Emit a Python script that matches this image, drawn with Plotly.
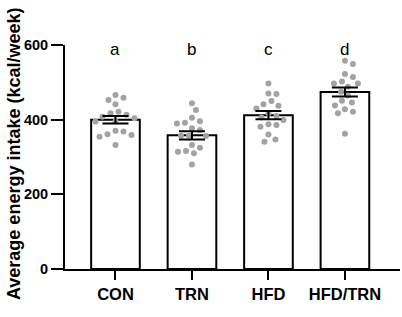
import plotly.graph_objects as go
import numpy as np

categories = ["CON", "TRN", "HFD", "HFD/TRN"]
letters = ["a", "b", "c", "d"]
means = [400, 358, 412, 474]
sems = [10, 11, 11, 12]

con_pts = [466, 459, 453, 441, 421, 417, 413, 408, 404, 396, 395, 370, 368, 361, 359, 354, 332]
trn_pts = [444, 426, 405, 396, 392, 390, 377, 372, 357, 357, 356, 332, 325, 316, 314, 310, 280]
hfd_pts = [497, 470, 469, 450, 441, 437, 430, 417, 410, 406, 399, 388, 386, 381, 360, 347, 341]
hfdtrn_pts = [558, 549, 522, 514, 502, 497, 497, 488, 475, 465, 451, 446, 438, 428, 421, 417, 362]
points = [con_pts, trn_pts, hfd_pts, hfdtrn_pts]

yticks = [0, 200, 400, 600]

# layout constants (pixels)
W, H = 402, 317
ML, MR, MT, MB = 65, 2, 45, 48
XR = [-0.66, 3.72]
YR = [0, 600]
px_per_x = (W - ML - MR) / (XR[1] - XR[0])
px_per_y = (H - MT - MB) / (YR[1] - YR[0])
DOT = 6.0


def beeswarm(vals):
    """Simple beeswarm: place points sorted by value, nearest free x offset."""
    order = np.argsort(vals)[::-1]
    placed = []
    offs = np.zeros(len(vals))
    cands = [0.0]
    for k in range(1, 40):
        cands += [k * 1.0, -k * 1.0]
    for i in order:
        ypx = vals[i] * px_per_y
        for c in cands:
            ok = True
            for (px_, py_) in placed:
                if (px_ - c) ** 2 + (py_ - ypx) ** 2 < (DOT * 1.3) ** 2:
                    ok = False
                    break
            if ok:
                placed.append((c, ypx))
                offs[i] = c / px_per_x
                break
    return offs


fig = go.Figure()
fig.add_trace(go.Bar(
    x=list(range(len(categories))), y=means, width=0.636,
    marker=dict(color="white", line=dict(color="black", width=2)),
    showlegend=False, hoverinfo="skip"))

for i, pts in enumerate(points):
    offs = beeswarm(pts)
    fig.add_trace(go.Scatter(
        x=[i + o for o in offs], y=pts, mode="markers",
        marker=dict(color="#a3a3a3", size=DOT, line=dict(width=0)),
        showlegend=False, hoverinfo="skip", cliponaxis=False))

fig.add_trace(go.Scatter(
    x=list(range(len(categories))), y=means, mode="markers",
    marker=dict(size=1, color="rgba(0,0,0,0)"),
    error_y=dict(type="data", array=sems, visible=True, color="black",
                 thickness=2, width=13),
    showlegend=False, hoverinfo="skip"))

for i, t in enumerate(letters):
    fig.add_annotation(x=i, y=588, text=t, showarrow=False, xref="x", yref="y",
                       yanchor="middle", font=dict(size=17, color="black",
                                                   family="Arial, Liberation Sans"))

fig.add_annotation(x=(14 - ML) / (W - ML - MR), y=(H - MB - 154) / (H - MT - MB),
                   xref="paper", yref="paper", text="<b>Average energy intake (kcal/week)</b>",
                   textangle=-90, showarrow=False, xanchor="center", yanchor="middle",
                   font=dict(size=18, color="black", family="Arial, Liberation Sans"))

fig.update_layout(
    template="none",
    width=W, height=H,
    margin=dict(l=ML, r=MR, t=MT, b=MB, autoexpand=False),
    paper_bgcolor="white", plot_bgcolor="white",
    font=dict(family="Arial, Liberation Sans", color="black"),
    xaxis=dict(range=XR, tickvals=list(range(len(categories))),
               ticktext=["<b>%s</b>" % c for c in categories], automargin=False,
               showline=True, linecolor="black", linewidth=2, ticks="outside",
               ticklen=9, tickwidth=2, tickcolor="black", showgrid=False,
               zeroline=False, tickfont=dict(size=16.5, color="black")),
    yaxis=dict(range=YR, tickvals=yticks, ticktext=["<b>%d</b>" % v for v in yticks],
               automargin=False, showline=True, linecolor="black",
               linewidth=2, ticks="outside", ticklen=12, tickwidth=2,
               tickcolor="black", showgrid=False, zeroline=False,
               tickfont=dict(size=14.5, color="black")),
)

fig.write_html("out.html", config={"displayModeBar": False, "staticPlot": True},
               post_script="document.body.style.margin='0';document.body.style.padding='0';")
